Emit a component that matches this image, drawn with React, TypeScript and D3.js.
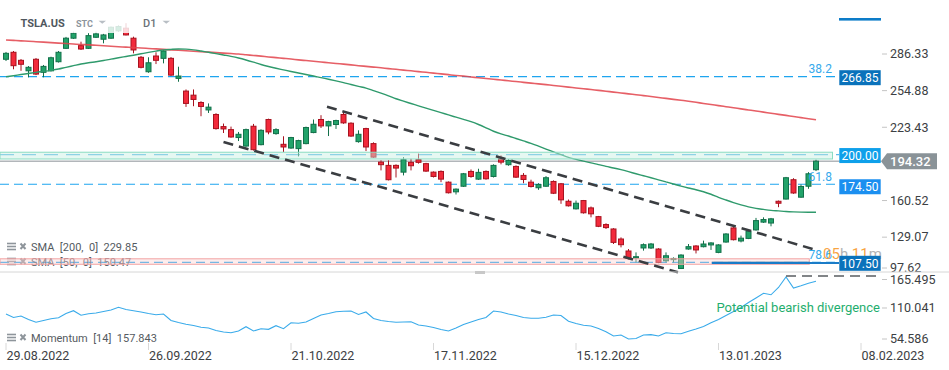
import { useEffect, useRef } from "react";
import * as d3 from "d3";

// daily candles, TSLA.US (bar 0 = 29.08.2022)
const opens = [
  281.8, 287.8, 280.9, 271.9, 281.8, 270.6, 271.9, 279.7, 291.2, 299.9,
  293.5, 291.2, 300.7, 299.0, 299.9, 306.2, 308.5, 299.9, 283.5, 271.1,
  284.6, 282.6, 282.6, 265.4, 254.5, 251.0, 244.7, 238.3, 234.4, 224.0,
  221.4, 214.6, 207.3, 224.3, 208.5, 230.1, 218.0, 208.8, 205.6, 205.1,
  209.4, 218.9, 230.1, 224.6, 225.8, 234.4, 226.9, 211.1, 222.3, 209.4,
  193.5, 190.7, 190.7, 184.9, 193.3, 195.6, 192.2, 184.9, 185.5, 176.3,
  168.0, 172.8, 185.5, 178.9, 185.5, 181.2, 196.5, 191.3, 189.8, 182.1,
  176.3, 171.5, 172.8, 176.9, 174.9, 159.9, 153.4, 160.5, 154.2, 146.7,
  139.9, 136.1, 127.5, 117.2, 111.2, 119.8, 119.8, 118.9, 108.8, 110.0,
  102.2, 118.9, 121.5, 120.9, 122.4, 116.0, 124.9, 137.0, 125.8, 128.0,
  135.3, 142.0, 141.2, 159.9, 161.8, 178.4, 163.4, 172.8, 187.0,
];
const highs = [
  288.1, 288.9, 282.0, 276.0, 282.9, 276.9, 284.0, 288.9, 301.0, 305.5,
  296.9, 304.2, 305.5, 303.6, 309.9, 310.9, 312.8, 301.2, 284.6, 283.5,
  287.8, 289.8, 283.7, 275.4, 255.9, 255.9, 245.8, 243.9, 235.5, 226.6,
  224.0, 219.4, 222.3, 226.3, 221.7, 230.8, 222.6, 215.7, 215.2, 212.7,
  224.0, 230.1, 233.8, 229.0, 229.9, 236.6, 227.7, 220.8, 223.0, 210.5,
  195.0, 195.0, 191.6, 197.8, 196.4, 200.8, 192.9, 185.5, 186.4, 176.9,
  170.9, 184.2, 187.2, 187.8, 186.4, 191.6, 199.3, 195.9, 190.7, 184.1,
  178.4, 175.4, 181.5, 177.8, 175.6, 161.4, 160.5, 161.0, 155.4, 147.3,
  141.0, 136.8, 128.9, 118.9, 116.0, 123.7, 124.1, 119.6, 116.0, 111.7,
  114.4, 123.2, 122.2, 126.1, 124.8, 123.0, 132.5, 137.7, 130.4, 135.3,
  145.6, 146.1, 145.6, 160.5, 180.8, 179.7, 174.3, 184.9, 195.6,
];
const lows = [
  280.3, 273.2, 271.9, 266.3, 268.2, 266.3, 271.3, 279.0, 290.6, 299.3,
  289.8, 290.6, 300.1, 295.5, 299.3, 305.3, 302.3, 286.9, 274.0, 270.2,
  277.7, 278.3, 267.4, 262.5, 240.9, 241.5, 232.9, 235.7, 221.4, 218.5,
  214.4, 211.6, 206.6, 203.4, 207.9, 217.4, 217.0, 202.1, 204.9, 198.4,
  208.8, 218.3, 222.8, 215.9, 222.0, 226.4, 215.2, 210.2, 203.0, 197.3,
  186.4, 177.8, 180.3, 182.1, 186.4, 192.2, 185.1, 180.3, 176.3, 166.6,
  165.7, 172.2, 180.1, 178.2, 178.4, 180.3, 191.6, 190.4, 179.9, 175.4,
  171.7, 169.7, 172.2, 166.1, 157.7, 155.4, 152.8, 149.3, 146.1, 137.7,
  136.1, 123.2, 120.3, 109.7, 107.4, 117.5, 118.9, 106.7, 107.4, 107.4,
  101.7, 118.3, 115.1, 120.3, 118.1, 115.3, 124.3, 126.3, 124.6, 127.4,
  134.7, 141.3, 138.4, 154.8, 161.4, 166.3, 162.9, 170.6, 185.8,
];
const closes = [
  286.9, 276.3, 277.5, 274.9, 269.1, 275.7, 283.1, 287.8, 299.9, 304.2,
  290.6, 302.1, 303.6, 302.7, 309.3, 309.9, 302.7, 289.8, 274.9, 278.8,
  280.9, 288.9, 268.2, 267.4, 243.9, 247.3, 241.3, 240.7, 222.3, 222.0,
  215.1, 217.4, 221.4, 204.2, 220.8, 219.4, 221.4, 206.5, 214.6, 212.0,
  223.2, 226.0, 224.6, 228.3, 229.2, 227.2, 215.9, 217.4, 206.5, 197.8,
  191.3, 178.4, 188.4, 195.6, 190.4, 193.3, 185.8, 181.2, 178.9, 167.2,
  170.3, 183.5, 181.2, 184.7, 179.2, 190.7, 193.5, 195.0, 180.6, 178.6,
  172.6, 174.3, 180.1, 166.8, 161.1, 156.0, 158.2, 150.0, 149.1, 138.4,
  137.3, 124.6, 122.6, 110.8, 112.3, 122.6, 123.2, 107.4, 113.1, 110.8,
  113.7, 120.9, 118.1, 123.2, 124.1, 122.4, 131.8, 126.9, 128.2, 134.1,
  143.3, 144.2, 144.8, 158.2, 180.1, 167.0, 172.6, 183.5, 194.32,
];

const sma200 = [
  298.4, 298.0, 297.6, 297.3, 296.9, 296.5, 296.1, 295.7, 295.3, 294.9,
  294.5, 294.2, 293.8, 293.4, 293.0, 292.6, 292.2, 291.8, 291.5, 291.1,
  290.7, 290.3, 289.9, 289.5, 289.1, 288.7, 288.3, 287.9, 287.5, 287.1,
  286.7, 286.3, 285.7, 285.1, 284.5, 283.8, 283.2, 282.6, 282.0, 281.3,
  280.7, 280.1, 279.5, 278.8, 278.2, 277.6, 277.0, 276.3, 275.7, 275.1,
  274.5, 273.8, 273.2, 272.5, 271.9, 271.2, 270.6, 269.9, 269.3, 268.6,
  267.9, 267.3, 266.6, 266.0, 265.3, 264.6, 264.0, 263.3, 262.7, 262.0,
  261.3, 260.7, 260.0, 259.3, 258.6, 257.9, 257.2, 256.5, 255.8, 255.1,
  254.4, 253.6, 252.9, 252.1, 251.4, 250.6, 249.8, 249.0, 248.2, 247.4,
  246.6, 245.8, 244.9, 243.9, 243.0, 242.0, 241.1, 240.2, 239.2, 238.3,
  237.4, 236.4, 235.5, 234.5, 233.6, 232.6, 231.7, 230.8, 229.85,
];
const sma50 = [
  266.8, 267.7, 268.7, 269.6, 270.6, 271.4, 272.3, 273.4, 274.9, 276.3,
  277.7, 278.8, 279.7, 280.7, 281.9, 283.1, 284.2, 285.3, 286.5, 287.7,
  288.8, 289.8, 290.3, 290.6, 290.5, 289.9, 288.9, 287.8, 286.7, 285.5,
  284.3, 282.9, 281.2, 279.3, 277.3, 275.6, 274.1, 272.7, 271.3, 270.0,
  268.7, 267.4, 266.0, 264.7, 263.3, 261.8, 260.1, 258.5, 257.0, 254.9,
  252.7, 250.4, 247.9, 245.8, 243.8, 241.8, 239.8, 237.9, 236.0, 234.0,
  232.1, 230.2, 228.2, 225.8, 223.0, 220.0, 217.7, 215.9, 213.8, 211.7,
  209.6, 207.2, 204.7, 202.3, 199.9, 197.6, 195.9, 194.3, 192.8, 191.4,
  189.8, 188.5, 187.0, 185.3, 183.5, 181.8, 180.1, 178.3, 176.5, 174.7,
  172.9, 171.3, 169.8, 168.1, 165.9, 163.3, 161.0, 158.8, 156.8, 155.1,
  153.8, 152.9, 152.1, 151.6, 151.1, 150.8, 150.6, 150.5, 150.47,
];
const momentum = [
  99.3, 93.0, 95.7, 89.5, 84.5, 87.7, 90.9, 92.7, 100.2, 105.2,
  97.0, 99.7, 101.1, 103.8, 106.5, 111.3, 107.4, 105.2, 102.9, 100.2,
  98.1, 99.3, 87.7, 84.1, 80.9, 78.7, 75.5, 74.3, 69.8, 67.1,
  65.9, 68.9, 76.6, 68.9, 73.0, 71.9, 78.4, 73.0, 83.7, 82.7,
  85.0, 91.3, 97.5, 100.2, 103.4, 104.1, 104.7, 98.4, 102.9, 91.3,
  87.7, 85.9, 84.5, 85.0, 85.5, 79.6, 77.8, 75.2, 71.6, 68.9,
  74.3, 80.5, 85.0, 89.5, 93.0, 104.7, 102.9, 99.3, 96.6, 93.0,
  91.6, 91.6, 93.6, 97.5, 96.6, 86.3, 82.3, 79.1, 77.8, 73.4,
  67.7, 60.0, 61.7, 54.586, 55.5, 61.7, 62.4, 60.0, 65.7, 64.4,
  63.9, 68.4, 72.5, 77.0, 83.6, 89.5, 96.6, 103.8, 111.0, 119.9,
  127.9, 136.3, 133.7, 146.7, 165.495, 145.8, 149.8, 154.2, 157.843,
];

const priceTicks = [97.62, 129.07, 160.52, 191.97, 223.43, 254.88, 286.33];
const momentumTicks = [54.586, 110.041, 165.495];
const dateTickBars = [0, 19, 38, 57, 76, 95, 114];
const dateTickLabels = ["29.08.2022", "26.09.2022", "21.10.2022", "17.11.2022", "15.12.2022", "13.01.2023", "08.02.2023"];

const fibRatios = ["38.2", "61.8", "78.6"];
const fibPrices = [266.85, 174.5, 107.5];
const resistanceLevel = 200.0;
const resistanceZone = [196.2, 202.0];
const supportZone = [105.8, 110.5];
const lastPrice = 194.32;

// channel lines as [bar, price]
const upperChannel = [[42.8, 241.1], [107.9, 118.3]];
const lowerChannel = [[29.0, 210.8], [89.6, 98.9]];
const divergenceLine = [[104, 165.495], [116, 165.495]];

export default function App() {
  const ref = useRef<SVGSVGElement | null>(null);

  useEffect(() => {
    const svg = d3.select(ref.current);
    svg.selectAll("*").remove();
    const W = 949, H = 370;
    const font = "Roboto, 'Open Sans', sans-serif";

    const x = d3.scaleLinear().domain([0, 108]).range([6, 816]);
    const y = d3.scaleLinear().domain([97.62, 286.33]).range([273.8, 54]);
    const ym = d3.scaleLinear().domain([54.586, 165.495]).range([339, 277]);
    const plotRight = 839;

    svg.append("rect").attr("width", W).attr("height", H).attr("fill", "#fff");

    // fibonacci levels
    fibPrices.forEach(p => {
      svg.append("line")
        .attr("x1", 0).attr("x2", plotRight)
        .attr("y1", y(p)).attr("y2", y(p))
        .attr("stroke", "#1ea5ef").attr("stroke-width", 1.2)
        .attr("stroke-dasharray", "9,5");
    });
    svg.append("line")
      .attr("x1", 0).attr("x2", plotRight)
      .attr("y1", y(resistanceLevel)).attr("y2", y(resistanceLevel))
      .attr("stroke", "#5fb8e8").attr("stroke-width", 1.2)
      .attr("stroke-dasharray", "14,8");

    // last price line
    svg.append("line")
      .attr("x1", 0).attr("x2", 881)
      .attr("y1", y(lastPrice)).attr("y2", y(lastPrice))
      .attr("stroke", "#8b9196").attr("stroke-width", 1);

    // indicator legends
    const legend = (ly: number, txt: string) => {
      const g = svg.append("g").attr("transform", `translate(0,${ly})`);
      [-3, 0, 3].forEach(dy =>
        g.append("line").attr("x1", 7).attr("x2", 16).attr("y1", dy).attr("y2", dy)
          .attr("stroke", "#8e959b").attr("stroke-width", 1.6));
      g.append("path").attr("d", "M20.5,-3 L25.5,2.5 M25.5,-3 L20.5,2.5")
        .attr("stroke", "#8e959b").attr("stroke-width", 2);
      g.append("text").attr("x", 31).attr("y", 4)
        .style("font-family", font).style("font-size", "11px").style("white-space", "pre")
        .attr("fill", "#555b61").text(txt);
    };
    legend(246.5, "SMA  [200,  0]  229.85");
    legend(261.5, "SMA  [50,  0]  150.47");

    // candles
    const bars = d3.range(opens.length);
    const cg = svg.append("g");
    bars.forEach(i => {
      const up = closes[i] >= opens[i];
      const stroke = up ? "#13704a" : "#a8121f";
      const fill = up ? "#22a36a" : "#f22a3b";
      cg.append("line")
        .attr("x1", x(i)).attr("x2", x(i))
        .attr("y1", y(highs[i])).attr("y2", y(lows[i]))
        .attr("stroke", stroke).attr("stroke-width", 1);
      const top = y(Math.max(opens[i], closes[i]));
      const h = Math.max(1.2, Math.abs(y(opens[i]) - y(closes[i])));
      cg.append("rect")
        .attr("x", x(i) - 2.5).attr("y", top)
        .attr("width", 5).attr("height", h)
        .attr("fill", fill).attr("stroke", stroke).attr("stroke-width", 1);
    });

    // moving averages
    const maLine = d3.line<number>().x((_, i) => x(i)).y(d => y(d)).curve(d3.curveMonotoneX);
    svg.append("path").attr("d", maLine(sma200))
      .attr("fill", "none").attr("stroke", "#e2434b").attr("stroke-width", 1.6).attr("opacity", 0.85);
    svg.append("path").attr("d", maLine(sma50))
      .attr("fill", "none").attr("stroke", "#2f9a6c").attr("stroke-width", 1.4);

    // zones
    svg.append("rect")
      .attr("x", 0).attr("width", x(110.2))
      .attr("y", y(resistanceZone[1])).attr("height", y(resistanceZone[0]) - y(resistanceZone[1]))
      .attr("fill", "#c8efe2").attr("fill-opacity", 0.45)
      .attr("stroke", "#8adcc2").attr("stroke-width", 1);
    svg.append("rect")
      .attr("x", 0).attr("width", x(107.1))
      .attr("y", y(supportZone[1])).attr("height", y(supportZone[0]) - y(supportZone[1]))
      .attr("fill", "#fbd3d3").attr("fill-opacity", 0.4)
      .attr("stroke", "#f2a3a3").attr("stroke-width", 1);
    svg.append("rect")
      .attr("x", x(94.1)).attr("width", x(107.2) - x(94.1))
      .attr("y", y(108.6)).attr("height", y(107.1) - y(108.6))
      .attr("fill", "#8fa9c2").attr("opacity", 0.6);
    svg.append("line")
      .attr("x1", x(94.1)).attr("x2", plotRight)
      .attr("y1", y(106.9)).attr("y2", y(106.9))
      .attr("stroke", "#1a7cc8").attr("stroke-width", 2);

    // channel
    [upperChannel, lowerChannel].forEach(seg => {
      svg.append("line")
        .attr("x1", x(seg[0][0])).attr("y1", y(seg[0][1]))
        .attr("x2", x(seg[1][0])).attr("y2", y(seg[1][1]))
        .attr("stroke", "#3a3d41").attr("stroke-width", 2.6)
        .attr("stroke-dasharray", "10,6");
    });

    // fib ratio texts
    fibPrices.forEach((p, k) => {
      svg.append("text").attr("x", 832).attr("y", y(p) - (k === 0 ? 4 : 3))
        .attr("text-anchor", "end")
        .style("font-family", font).style("font-size", "12px")
        .attr("fill", "#35a9ec").text(fibRatios[k]);
    });

    // countdown timer (overlaps the 78.6 tag as in the platform)
    const timer = svg.append("text").attr("x", 823).attr("y", y(107.5) - 3.5)
      .style("font-family", font).style("font-size", "15px");
    timer.append("tspan").attr("fill", "#f7941d").attr("fill-opacity", 0.85).text("05");
    timer.append("tspan").attr("fill", "#b3b3b3").text("h");
    timer.append("tspan").attr("fill", "#f7941d").attr("fill-opacity", 0.85).text(" 11");
    timer.append("tspan").attr("fill", "#b3b3b3").text("m");

    // header
    svg.append("rect").attr("x", 0).attr("y", 0).attr("width", 185).attr("height", 33)
      .attr("fill", "#fff").attr("opacity", 0.82);
    svg.append("text").attr("x", 20.5).attr("y", 27)
      .style("font-family", font).style("font-size", "11px").style("font-weight", 700)
      .attr("fill", "#50575e").text("TSLA.US");
    svg.append("text").attr("x", 76).attr("y", 26.5)
      .style("font-family", font).style("font-size", "9px").style("font-weight", 700)
      .attr("fill", "#8c949c").text("STC");
    svg.append("text").attr("x", 143).attr("y", 27)
      .style("font-family", font).style("font-size", "11px").style("font-weight", 500)
      .attr("fill", "#6b7178").text("D1");
    [98.5, 162.5].forEach(tx => {
      svg.append("path").attr("d", `M${tx},20.7 L${tx + 7.5},20.7 L${tx + 3.75},23.8 Z`).attr("fill", "#b8bec4");
    });
    svg.append("rect").attr("x", 839).attr("y", 18).attr("width", 42).attr("height", 2.6).attr("fill", "#0d7cc8");

    // price axis (the tick under the last-price tag stays hidden)
    const ly = y(lastPrice);
    priceTicks.filter(t => Math.abs(y(t) - ly) > 9).forEach(t => {
      const ty = Math.min(y(t), 268);
      svg.append("line").attr("x1", 882).attr("x2", 887).attr("y1", ty).attr("y2", ty)
        .attr("stroke", "#c4c4c4");
      svg.append("text").attr("x", 890).attr("y", ty + 4.3)
        .style("font-family", font).style("font-size", "12.5px")
        .attr("fill", "#3c4043").text(d3.format(".2f")(t));
    });

    // level tags
    const tag = (p: number, color: string, shift = 1) => {
      const cy = y(p) + shift;
      svg.append("rect").attr("x", 839.3).attr("y", cy - 7.5).attr("width", 41.4).attr("height", 15)
        .attr("fill", color);
      svg.append("text").attr("x", 860).attr("y", cy + 4.3).attr("text-anchor", "middle")
        .style("font-family", font).style("font-size", "12px")
        .attr("fill", "#fff").text(d3.format(".2f")(p));
    };
    tag(fibPrices[0], "#0a72bb");
    tag(resistanceLevel, "#0ea0ea");
    tag(fibPrices[1], "#1b8ff0", 2.5);
    tag(fibPrices[2], "#0a72bb");

    svg.append("path")
      .attr("d", `M881,${ly} L887,${ly - 8} L937,${ly - 8} L937,${ly + 8} L887,${ly + 8} Z`)
      .attr("fill", "#8a9398");
    svg.append("text").attr("x", 890).attr("y", ly + 4.6)
      .style("font-family", font).style("font-size", "13px").style("font-weight", 500)
      .attr("fill", "#fff").text(d3.format(".2f")(lastPrice));

    // pane separator
    svg.append("line").attr("x1", 0).attr("x2", W).attr("y1", 272).attr("y2", 272)
      .attr("stroke", "#d6d6d6").attr("stroke-width", 1);
    svg.append("rect").attr("x", 475).attr("y", 271).attr("width", 10).attr("height", 3).attr("fill", "#c8c8c8");

    // momentum pane
    const momLine = d3.line<number>().x((_, i) => x(i)).y(d => ym(d));
    svg.append("path").attr("d", momLine(momentum))
      .attr("fill", "none").attr("stroke", "#3aabea").attr("stroke-width", 1.1);
    svg.append("line")
      .attr("x1", x(divergenceLine[0][0])).attr("y1", ym(divergenceLine[0][1]) - 1)
      .attr("x2", x(divergenceLine[1][0])).attr("y2", ym(divergenceLine[1][1]) - 1)
      .attr("stroke", "#5a5e62").attr("stroke-width", 1.6).attr("stroke-dasharray", "10,6");
    svg.append("text").attr("x", 880).attr("y", 312)
      .attr("text-anchor", "end")
      .style("font-family", font).style("font-size", "13px")
      .attr("fill", "#1fae6e").text("Potential bearish divergence");
    legend(337.5, "Momentum  [14]  157.843");

    momentumTicks.forEach(t => {
      const ty = Math.max(ym(t), 279.5);
      svg.append("line").attr("x1", 882).attr("x2", 887).attr("y1", ty).attr("y2", ty)
        .attr("stroke", "#c4c4c4");
      svg.append("text").attr("x", 890).attr("y", ty + 4.3)
        .style("font-family", font).style("font-size", "12.5px")
        .attr("fill", "#3c4043").text(d3.format(".3f")(t));
    });

    // date axis
    dateTickBars.forEach((b, k) => {
      svg.append("line").attr("x1", x(b)).attr("x2", x(b)).attr("y1", 343).attr("y2", 350)
        .attr("stroke", "#d8d8d8");
      svg.append("text").attr("x", x(b) + 0.5).attr("y", 359.5)
        .style("font-family", font).style("font-size", "12.5px")
        .attr("fill", "#3c4043").text(dateTickLabels[k]);
    });
  }, []);

  return (
    <div style={{ position: "absolute", left: 0, top: 0 }}>
      <svg ref={ref} width={949} height={370} />
    </div>
  );
}
